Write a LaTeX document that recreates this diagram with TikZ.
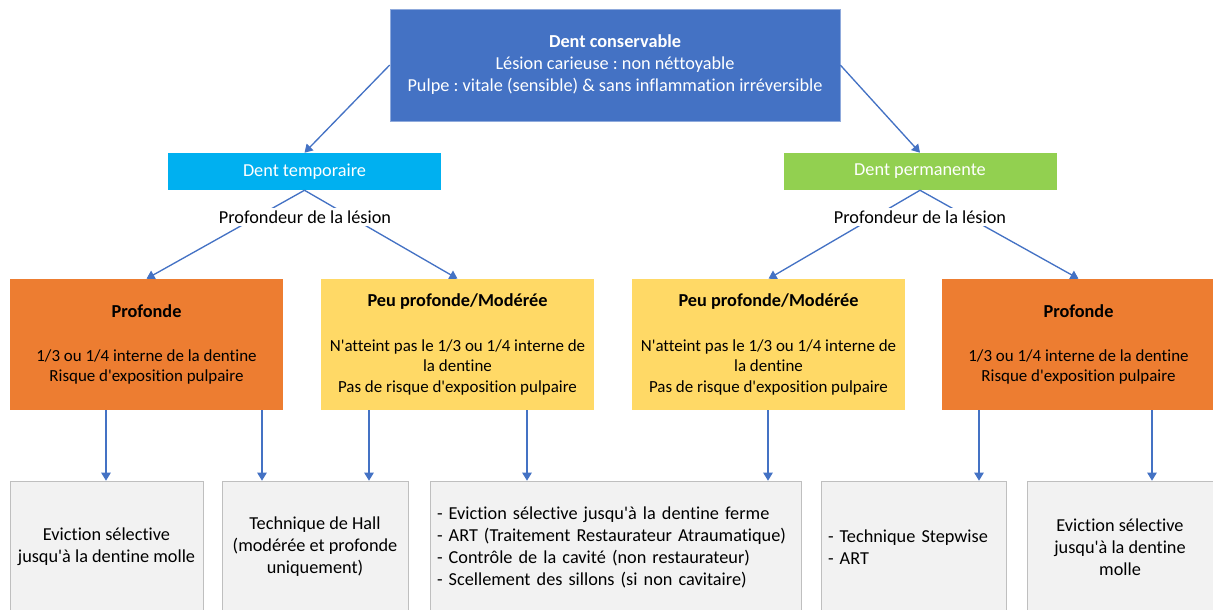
\documentclass[tikz,border=0pt]{standalone}
\usepackage{fontspec}
\setmainfont{Carlito}[Ligatures={NoCommon}]
\usetikzlibrary{arrows.meta}
\definecolor{topblue}{HTML}{4472C4}
\definecolor{tempblue}{HTML}{00B0F0}
\definecolor{permgreen}{HTML}{92D050}
\definecolor{deeporange}{HTML}{ED7D31}
\definecolor{lightyellow}{HTML}{FFD966}
\definecolor{boxgrey}{HTML}{F2F2F2}
\definecolor{linegrey}{HTML}{BFBFBF}
\frenchspacing
\newcommand{\boxtitle}[1]{{\fontsize{13.7}{16.5}\selectfont\textbf{#1}}}

\begin{document}
\begin{tikzpicture}[x=0.75pt,y=-0.75pt,font=\fontsize{13.7}{16.5}\selectfont]
\useasboundingbox (0,0) rectangle (1213,610);

\begin{scope}[every node/.style={rectangle,inner sep=0pt,align=center}]
	\node (T) [fill=topblue,draw=topblue!60!white,text=white,minimum width=337.5pt,minimum height=84pt] at (615,65)
		{\textbf{Dent conservable}\\Lésion carieuse : non néttoyable\\Pulpe : vitale (sensible) \& sans inflammation irréversible};
	\node (DT) [fill=tempblue,text=white,minimum width=204.75pt,minimum height=27.75pt] at (304.5,171.5) {Dent temporaire};
	\node (DP) [fill=permgreen,text=white,minimum width=204.75pt,minimum height=27.75pt] at (920,171.5) {Dent permanente};
\end{scope}

\begin{scope}[every node/.style={rectangle,inner sep=0pt,align=center,minimum width=204.75pt,minimum height=98.25pt,font=\fontsize{12.7}{15.5}\selectfont}]
	\node (PL) [fill=deeporange] at (146.5,344.5)
		{\boxtitle{Profonde}\\[17.5pt]1/3 ou 1/4 interne de la dentine\\Risque d\textquotesingle exposition pulpaire};
	\node (ML) [fill=lightyellow] at (457.5,344.5)
		{\boxtitle{Peu profonde/Modérée}\\[18pt]N\textquotesingle atteint pas le 1/3 ou 1/4 interne de\\la dentine\\Pas de risque d\textquotesingle exposition pulpaire};
	\node (MR) [fill=lightyellow] at (768.5,344.5)
		{\boxtitle{Peu profonde/Modérée}\\[18pt]N\textquotesingle atteint pas le 1/3 ou 1/4 interne de\\la dentine\\Pas de risque d\textquotesingle exposition pulpaire};
	\node (PR) [fill=deeporange] at (1078.5,344.5)
		{\boxtitle{Profonde}\\[17.5pt]1/3 ou 1/4 interne de la dentine\\Risque d\textquotesingle exposition pulpaire};
\end{scope}

\begin{scope}[every node/.style={rectangle,fill=boxgrey,draw=linegrey,inner sep=0pt,minimum height=99pt}]
	\node (G1) [align=center,minimum width=144.75pt] at (106.5,547) {Eviction sélective\\jusqu\textquotesingle à la dentine molle};
	\node (G2) [align=center,minimum width=139.5pt] at (315,547) {Technique de Hall\\(modérée et profonde\\uniquement)};
	\node (G3) [align=left,text width=267.75pt,inner xsep=5.25pt] at (615.5,547)
		{- Eviction sélective jusqu\textquotesingle à la dentine ferme\\- ART (Traitement Restaurateur Atraumatique)\\- Contrôle de la cavité (non restaurateur)\\- Scellement des sillons (si non cavitaire)};
	\node (G4) [align=left,text width=128.25pt,inner xsep=5.25pt] at (913.5,547) {- Technique Stepwise\\- ART};
	\node (G5) [align=center,minimum width=139.5pt] at (1120,547) {Eviction sélective\\jusqu\textquotesingle à la dentine\\molle};
\end{scope}

\begin{scope}[every edge/.style={draw=topblue,line width=1pt}]
	\path [-{Triangle[width=7pt,length=6pt]}] (T.west) edge (DT.north);
	\path [-{Triangle[width=7pt,length=6pt]}] (T.east) edge (DP.north);
	\path [-{Triangle[width=7pt,length=6pt]}] (DT.south) edge (PL.north);
	\path [-{Triangle[width=7pt,length=6pt]}] (DT.south) edge (ML.north);
	\path [-{Triangle[width=7pt,length=6pt]}] (DP.south) edge (MR.north);
	\path [-{Triangle[width=7pt,length=6pt]}] (DP.south) edge (PR.north);
	\path [-{Triangle[width=7pt,length=6pt]}] (106,0 |- PL.south) edge (106,0 |- G1.north);
	\path [-{Triangle[width=7pt,length=6pt]}] (262,0 |- PL.south) edge (262,0 |- G2.north);
	\path [-{Triangle[width=7pt,length=6pt]}] (369,0 |- ML.south) edge (369,0 |- G2.north);
	\path [-{Triangle[width=7pt,length=6pt]}] (527,0 |- ML.south) edge (527,0 |- G3.north);
	\path [-{Triangle[width=7pt,length=6pt]}] (768,0 |- MR.south) edge (768,0 |- G3.north);
	\path [-{Triangle[width=7pt,length=6pt]}] (979,0 |- PR.south) edge (979,0 |- G4.north);
	\path [-{Triangle[width=7pt,length=6pt]}] (1152,0 |- PR.south) edge (1152,0 |- G5.north);
\end{scope}

\begin{scope}[every node/.style={fill=white,inner xsep=4pt,inner ysep=2pt}]
	\node (LL) at (305,217) {Profondeur de la lésion};
	\node (LR) at (920,217) {Profondeur de la lésion};
\end{scope}
\end{tikzpicture}
\end{document}
